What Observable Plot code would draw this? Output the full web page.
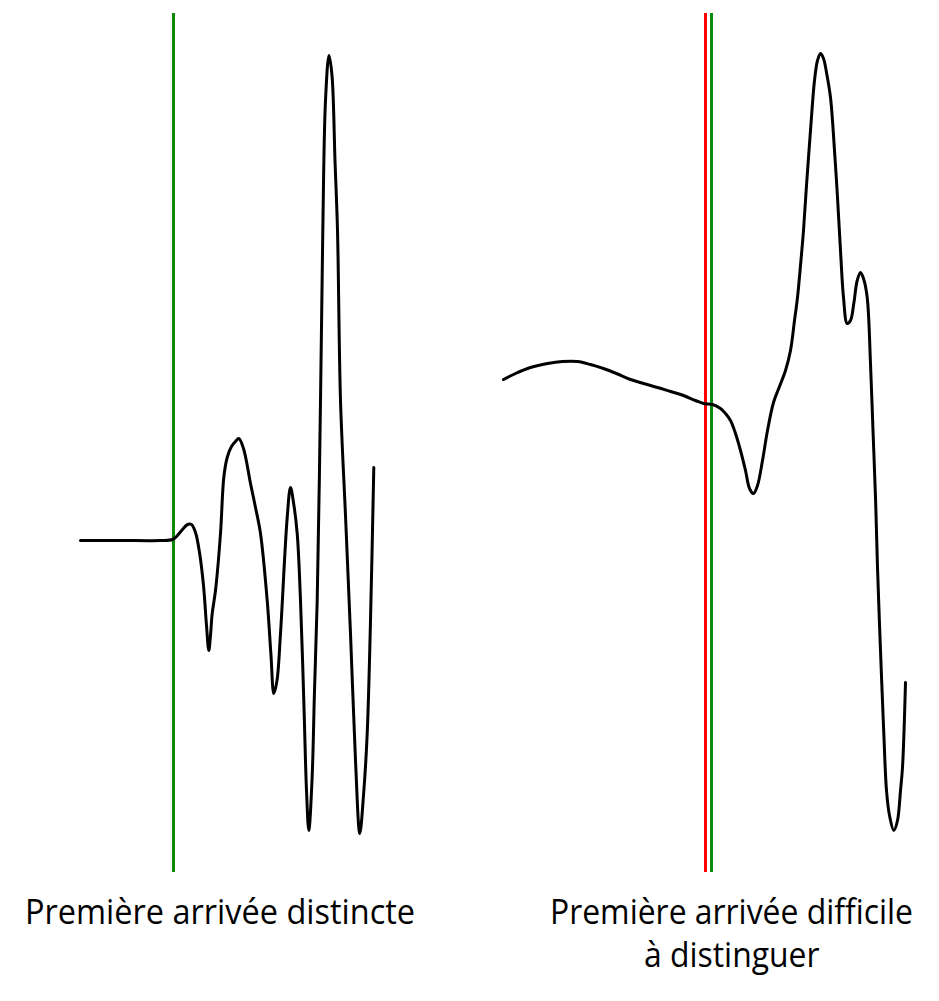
<!DOCTYPE html>
<html>
<head>
<meta charset="utf-8">
<script src="https://cdn.jsdelivr.net/npm/d3@7"></script>
<script src="https://cdn.jsdelivr.net/npm/@observablehq/plot@0.6"></script>
<style>
  html, body { margin: 0; padding: 0; background: #fff; }
  body { width: 939px; height: 1001px; overflow: hidden; font-family: "Open Sans", Lato, sans-serif; }
  #chart svg { display: block; }
  #captions { position: relative; width: 939px; height: 121px; }
  .line { position: absolute; font-size: 35px; line-height: 43px; color: #000; white-space: nowrap; transform-origin: 0 50%; }
</style>
</head>
<body>
<div id="chart"></div>
<div id="captions"></div>
<script>
// Trace 1 : première arrivée distincte (time, amplitude)
const leftT = [80, 120, 160, 172, 176, 182, 187, 191, 195, 199, 203, 206, 208.3, 210, 211.7, 215, 220, 223.3, 226.7, 231, 235, 238.3, 243, 250, 255, 260, 266.7, 270.5, 273.3, 276.5, 280, 286.7, 290, 293, 296.7, 300, 303.3, 306, 308.3, 311.5, 314, 316.7, 320, 322.3, 325, 328.5, 331.5, 334.5, 337, 340, 345, 350, 355, 359.3, 363, 366.7, 370, 373.3];
const leftAmp = [0, 0, 0, 1, 4, 11, 16, 16, 8, -12, -45, -85, -110, -95, -73, -50, 7, 63, 83, 94, 99, 102, 92, 57, 33, 7, -60, -115, -153, -140, -93, 23, 53, 38, 7, -60, -160, -250, -290, -240, -150, -60, 140, 310, 440, 485, 465, 380, 310, 140, 25, -93, -220, -293, -255, -193, -80, 73];

// Trace 2 : première arrivée difficile à distinguer (time, amplitude)
const rightT = [503, 515, 530, 547, 562, 577, 590, 603, 616, 630, 643, 657, 670, 683, 695, 703, 712, 720, 725, 730, 735, 740, 745, 749, 753, 757, 762, 767, 773, 779, 785, 790, 794, 797, 800, 803, 806, 810, 814, 817, 820, 823, 826, 830, 834, 837, 840, 843, 846.7, 850, 853.3, 856.7, 860, 863, 866.7, 870, 872.5, 875, 877, 880, 883.3, 886, 889, 893.3, 897, 900, 902, 905];
const rightAmp = [161, 167, 173, 177, 179, 179, 176, 172, 167, 161, 157, 153, 149, 145, 140, 137, 136, 132, 127, 120, 107, 90, 70, 52, 47, 55, 80, 110, 138, 154, 170, 190, 220, 243, 275, 310, 355, 410, 460, 480, 487, 482, 468, 443, 390, 343, 290, 243, 217, 220, 237, 260, 268, 262, 243, 177, 110, 43, -27, -110, -193, -250, -275, -290, -280, -250, -227, -142];

// Arrival picks
const pickT = [173, 705, 711];
const pickColor = ["#0b8a0b", "#ff0000", "#0b8a0b"];
const pickTop = 527, pickBottom = -332;

// Captions
const captionLeft = ["Première arrivée distincte"];
const captionRight = ["Première arrivée difficile", "à distinguer"];

const left = leftT.map((t, i) => ({t, amp: leftAmp[i]}));
const right = rightT.map((t, i) => ({t, amp: rightAmp[i]}));
const picks = pickT.map((t, i) => ({t, color: pickColor[i]}));

const chart = Plot.plot({
  width: 939,
  height: 880,
  margin: 0,
  x: {domain: [0, 939], axis: null},
  y: {domain: [-340, 540], axis: null},
  color: {type: "identity"},
  marks: [
    Plot.ruleX(picks, {x: "t", y1: pickTop, y2: pickBottom, stroke: "color", strokeWidth: 3}),
    Plot.line(left, {x: "t", y: "amp", stroke: "#000", strokeWidth: 3, curve: "catmull-rom"}),
    Plot.line(right, {x: "t", y: "amp", stroke: "#000", strokeWidth: 3, curve: "catmull-rom"})
  ]
});
document.getElementById("chart").append(chart);

const cap = document.getElementById("captions");
function addCaption(lines, x0, x1, top) {
  const divs = lines.map((txt, i) => {
    const d = document.createElement("div");
    d.className = "line";
    d.textContent = txt;
    d.style.top = (top + i * 43) + "px";
    cap.append(d);
    return d;
  });
  const w0 = divs[0].getBoundingClientRect().width;
  const s = (x1 - x0) / w0;
  const cx = (x0 + x1) / 2;
  divs.forEach(d => {
    const w = d.getBoundingClientRect().width;
    d.style.left = (cx - w * s / 2) + "px";
    d.style.transform = `scaleX(${s})`;
  });
}
addCaption(captionLeft, 25, 415, 9);
addCaption(captionRight, 550, 913, 9);
</script>
</body>
</html>
